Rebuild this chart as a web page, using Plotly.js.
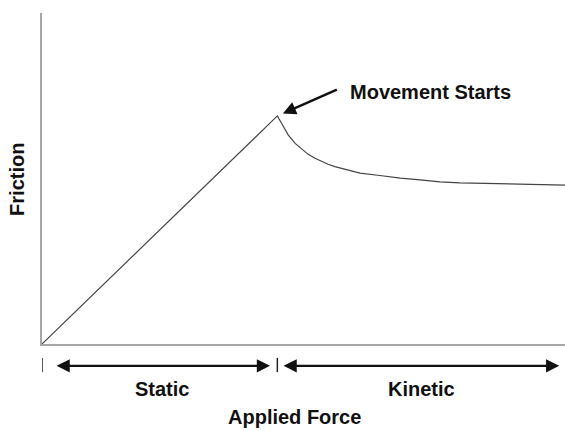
<!DOCTYPE html>
<html>
<head>
<meta charset="utf-8">
<script src="https://cdn.plot.ly/plotly-3.0.1.min.js"></script>
<style>html,body{margin:0;padding:0;background:#fff;}#chart{width:565px;height:431px;}</style>
</head>
<body>
<div id="chart"></div>
<script>
// Applied force (x) vs friction (y), arbitrary units
const appliedForce = [0, 45, 45.8, 47.1, 48.4, 49.7, 50.9, 52.2, 53.5, 54.7, 56.0, 57.3, 59.2, 60.8, 64.6, 68.5, 72.3, 76.1, 79.9, 87.6, 93.3, 100];
const friction     = [0, 68.9, 66.7, 63.1, 60.6, 58.8, 57.3, 56.1, 55.1, 54.3, 53.6, 53.0, 52.3, 51.6, 50.9, 50.1, 49.6, 49.0, 48.7, 48.4, 48.2, 48.0];

// Regions along the applied-force axis
const regionNames = ['Static', 'Kinetic'];
const regionStart = [0, 45];
const regionEnd   = [45, 100];

const xTitle = 'Applied Force';
const yTitle = 'Friction';
const peakLabel = 'Movement Starts';

const FONT = 'Liberation Sans, Arial, sans-serif';
const TXT = '#111111';

const peakIdx = 1;
const peakX = appliedForce[peakIdx], peakY = friction[peakIdx];

const trace = {
  x: appliedForce, y: friction, type: 'scatter', mode: 'lines',
  line: {color: '#444444', width: 1.2}, hoverinfo: 'skip', showlegend: false
};

const annotations = [];
const shapes = [];
const arrowY = -0.066;
const padStart = [2.5, 0.9];
const padEnd = [1.4, 1.1];

regionNames.forEach((name, i) => {
  const s = regionStart[i], e = regionEnd[i];
  // double-headed arrow
  annotations.push({
    xref: 'x', yref: 'paper', x: e - padEnd[i], y: arrowY,
    axref: 'x', ayref: 'pixel', ax: s + padStart[i], ay: 0,
    text: '', showarrow: true, arrowside: 'end+start',
    arrowhead: 2, arrowsize: 1.1, arrowwidth: 2.4, arrowcolor: '#111111'
  });
  // label
  annotations.push({
    xref: 'x', yref: 'paper', x: (s + e) / 2 + (i === 0 ? 0.5 : 0), y: -0.135,
    text: name, showarrow: false, xanchor: 'center', yanchor: 'middle',
    font: {family: FONT, size: 20, color: TXT, weight: 'bold'}
  });
  // tick at start of region
  shapes.push({
    type: 'line', xref: 'x', yref: 'paper', x0: s, x1: s, y0: -0.042, y1: -0.085,
    line: {color: '#222222', width: 1.5}
  });
});

// "Movement Starts" arrow pointing at the peak
annotations.push({
  xref: 'x', yref: 'y', x: peakX, y: peakY, ax: 61, ay: -27,
  text: '', showarrow: true, arrowhead: 2, arrowsize: 1.1, arrowwidth: 2.4,
  arrowcolor: '#111111', standoff: 6
});
annotations.push({
  xref: 'x', yref: 'y', x: peakX, y: peakY, xshift: 71, yshift: 24,
  text: peakLabel, showarrow: false, xanchor: 'left', yanchor: 'middle',
  font: {family: FONT, size: 20, color: TXT, weight: 'bold'}
});

// axis titles
annotations.push({
  xref: 'paper', yref: 'paper', x: 0.483, y: -0.22, text: xTitle, showarrow: false,
  xanchor: 'center', yanchor: 'middle',
  font: {family: FONT, size: 20, color: TXT, weight: 'bold'}
});
annotations.push({
  xref: 'paper', yref: 'paper', x: -0.047, y: 0.497, text: yTitle, showarrow: false,
  textangle: -90, xanchor: 'center', yanchor: 'middle',
  font: {family: FONT, size: 20, color: TXT, weight: 'bold'}
});

const layout = {
  width: 565, height: 431,
  margin: {l: 42, r: 0, t: 13, b: 87},
  paper_bgcolor: '#ffffff', plot_bgcolor: '#ffffff',
  showlegend: false,
  xaxis: {range: [0, 100], showline: true, linecolor: '#a6a6a6', linewidth: 2,
          showgrid: false, zeroline: false, showticklabels: false, ticks: '', fixedrange: true},
  yaxis: {range: [0, 100], showline: true, linecolor: '#a6a6a6', linewidth: 2,
          showgrid: false, zeroline: false, showticklabels: false, ticks: '', fixedrange: true},
  annotations: annotations,
  shapes: shapes
};

Plotly.newPlot('chart', [trace], layout, {displayModeBar: false, staticPlot: true});
</script>
</body>
</html>
